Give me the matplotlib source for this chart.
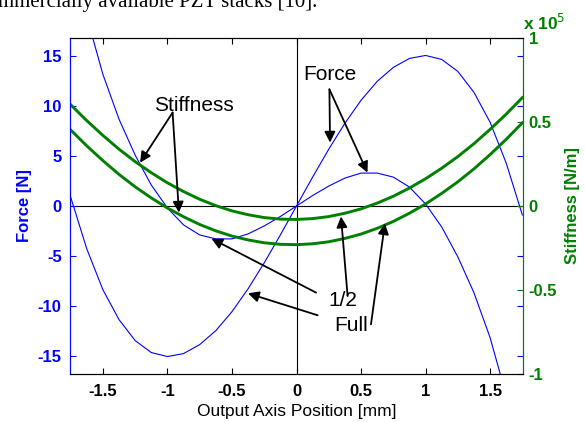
import matplotlib
matplotlib.use('Agg')
import matplotlib.pyplot as plt

plt.rcParams['font.family'] = ['Liberation Sans', 'DejaVu Sans']

# Output axis position [mm]
x_mm = [-1.75, -1.625, -1.5, -1.375, -1.25, -1.125, -1.0, -0.875, -0.75, -0.625,
        -0.5, -0.375, -0.25, -0.125, 0.0, 0.125, 0.25, 0.375, 0.5, 0.625,
        0.75, 0.875, 1.0, 1.125, 1.25, 1.375, 1.5, 1.625, 1.75]

# Force [N], full and half preload
force_full = [0.9, -4.3, -8.4, -11.4, -13.5, -14.7, -15.1, -14.8, -13.9, -12.5,
              -10.6, -8.3, -5.7, -2.9, 0.0, 2.9, 5.7, 8.3, 10.6, 12.5,
              13.9, 14.8, 15.1, 14.7, 13.5, 11.4, 8.4, 4.3, -0.9]
force_half = [26.0, 19.0, 13.2, 8.7, 5.1, 2.1, -0.2, -1.9, -2.9, -3.3,
              -3.3, -2.8, -2.0, -1.05, 0.0, 1.05, 2.0, 2.8, 3.3, 3.3,
              2.9, 1.9, 0.2, -2.1, -5.1, -8.7, -13.2, -19.0, -26.0]

# Stiffness [N/m] in units of 1e5
stiff_half = [0.603, 0.508, 0.420, 0.338, 0.264, 0.198, 0.138, 0.086, 0.040, 0.002,
              -0.029, -0.052, -0.069, -0.078, -0.080, -0.075, -0.063, -0.043, -0.017, 0.017,
              0.058, 0.107, 0.162, 0.225, 0.294, 0.371, 0.456, 0.547, 0.645]
stiff_full = [0.453, 0.358, 0.270, 0.188, 0.114, 0.048, -0.012, -0.064, -0.110, -0.148,
              -0.179, -0.202, -0.219, -0.228, -0.230, -0.225, -0.213, -0.193, -0.167, -0.133,
              -0.092, -0.043, 0.012, 0.075, 0.144, 0.221, 0.306, 0.397, 0.495]

x_ticks = [-1.5, -1.0, -0.5, 0.0, 0.5, 1.0, 1.5]
x_ticklabels = ['-1.5', '-1', '-0.5', '0', '0.5', '1', '1.5']
f_ticks = [-15, -10, -5, 0, 5, 10, 15]
k_ticks = [-1, -0.5, 0, 0.5, 1]
k_ticklabels = ['-1', '-0.5', '0', '0.5', '1']

BLUE = '#0000FF'
GREEN = '#008000'

fig = plt.figure(figsize=(5.85, 4.22), dpi=100)
ax1 = fig.add_axes([70 / 585, 1 - 374 / 422, 453 / 585, 336 / 422])
ax2 = ax1.twinx()

# cropped line of the paper text above the figure
fig.text(-0.004, 1 - 7 / 422, 'mmercially available PZT stacks [10].',
         family='Liberation Serif', fontsize=15, ha='left', va='baseline')

# zero reference lines
ax1.axhline(0, color='k', lw=0.8, zorder=1)
ax1.axvline(0, color='k', lw=0.8, zorder=1)

ax1.plot(x_mm, force_full, color=BLUE, lw=0.8, zorder=2)
ax1.plot(x_mm, force_half, color=BLUE, lw=0.8, zorder=2)
ax2.plot(x_mm, stiff_half, color=GREEN, lw=2.1)
ax2.plot(x_mm, stiff_full, color=GREEN, lw=2.1)

ax1.set_xlim(-1.755, 1.755)
ax1.set_ylim(-16.85, 16.85)
ax2.set_ylim(-1, 1)

ax1.set_xticks(x_ticks)
ax1.set_xticklabels(x_ticklabels, fontweight='bold', fontsize=12)
ax1.set_yticks(f_ticks)
ax1.set_yticklabels([str(v) for v in f_ticks], fontweight='bold', fontsize=12)
ax2.set_yticks(k_ticks)
ax2.set_yticklabels(k_ticklabels, fontweight='bold', fontsize=12)

ax1.tick_params(axis='x', direction='in', top=True, length=4, width=0.8, pad=7, colors='k')
ax1.tick_params(axis='y', direction='in', left=True, right=True, labelright=False,
                length=4, width=0.8, pad=6, colors=BLUE)
ax2.tick_params(axis='y', direction='in', length=4, width=0.8, pad=4, colors=GREEN)

ax1.set_xlabel('Output Axis Position [mm]', fontsize=12.5, labelpad=4)
ax1.set_ylabel('Force [N]', fontsize=12, fontweight='bold', color=BLUE, labelpad=4)
ax2.set_ylabel('Stiffness [N/m]', fontsize=12, fontweight='bold', color=GREEN, labelpad=6)

for ax in (ax1, ax2):
    for side in ax.spines:
        ax.spines[side].set_linewidth(0.8)
        ax.spines[side].set_color('k')
ax1.spines['left'].set_color(BLUE)
ax2.spines['left'].set_color(BLUE)
ax1.spines['right'].set_color(GREEN)
ax2.spines['right'].set_color(GREEN)

# exponent of the stiffness axis
fig.text(523 / 585, 1 - 30 / 422, 'x 10$^{5}$', color=GREEN, fontsize=12.5,
         fontweight='bold', ha='left', va='baseline')

# labels with arrows, placed in force-axis data coordinates
arrow = dict(arrowstyle='-|>', color='k', lw=1.3, mutation_scale=16, shrinkA=0, shrinkB=0)
ax2.text(-0.795, 9.5, 'Stiffness', transform=ax1.transData, fontsize=15, ha='center', va='baseline')
ax2.annotate('', xy=(-1.212, 4.35), xytext=(-0.96, 9.37), xycoords=ax1.transData,
             textcoords=ax1.transData, arrowprops=arrow)
ax2.annotate('', xy=(-0.911, -0.66), xytext=(-0.96, 9.37), xycoords=ax1.transData,
             textcoords=ax1.transData, arrowprops=arrow)

ax2.text(0.255, 12.64, 'Force', transform=ax1.transData, fontsize=15, ha='center', va='baseline')
ax2.annotate('', xy=(0.26, 6.36), xytext=(0.255, 11.7), xycoords=ax1.transData,
             textcoords=ax1.transData, arrowprops=arrow)
ax2.annotate('', xy=(0.55, 3.35), xytext=(0.255, 11.7), xycoords=ax1.transData,
             textcoords=ax1.transData, arrowprops=arrow)

ax2.text(0.359, -10.06, '1/2', transform=ax1.transData, fontsize=15, ha='center', va='baseline')
ax2.annotate('', xy=(-0.659, -3.27), xytext=(0.152, -8.69), xycoords=ax1.transData,
             textcoords=ax1.transData, arrowprops=arrow)
ax2.annotate('', xy=(0.345, -1.06), xytext=(0.396, -9.03), xycoords=ax1.transData,
             textcoords=ax1.transData, arrowprops=arrow)

ax2.text(0.421, -12.57, 'Full', transform=ax1.transData, fontsize=15, ha='center', va='baseline')
ax2.annotate('', xy=(-0.376, -8.76), xytext=(0.164, -10.96), xycoords=ax1.transData,
             textcoords=ax1.transData, arrowprops=arrow)
ax2.annotate('', xy=(0.685, -1.74), xytext=(0.577, -11.87), xycoords=ax1.transData,
             textcoords=ax1.transData, arrowprops=arrow)

fig.savefig('out.png', dpi=100)
